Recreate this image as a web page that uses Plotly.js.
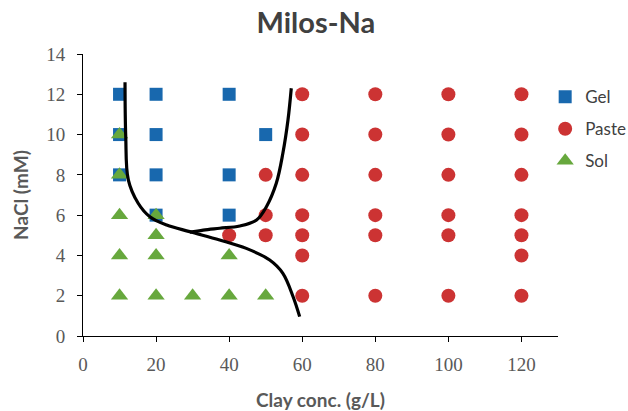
<!DOCTYPE html>
<html>
<head>
<meta charset="utf-8">
<script src="https://cdn.plot.ly/plotly-3.0.1.min.js"></script>
<style>
  html, body { margin: 0; padding: 0; background: #fff; }
  #chart { width: 628px; height: 411px; }
</style>
</head>
<body>
<div id="chart"></div>
<script>
// Phase diagram observations: clay concentration (g/L) vs NaCl (mM)
const gelX   = [10, 20, 40, 10, 20, 50, 10, 20, 40, 20, 40];
const gelY   = [12, 12, 12, 10, 10, 10,  8,  8,  8,  6,  6];

const pasteX = [60, 80, 100, 120,
                60, 80, 100, 120,
                50, 60, 80, 100, 120,
                50, 60, 80, 100, 120,
                40, 50, 60, 80, 100, 120,
                60, 120,
                60, 80, 100, 120];
const pasteY = [12, 12, 12, 12,
                10, 10, 10, 10,
                 8,  8,  8,  8,  8,
                 6,  6,  6,  6,  6,
                 5,  5,  5,  5,  5,  5,
                 4,  4,
                 2,  2,  2,  2];

const solX   = [10, 10, 10, 20, 20, 10, 20, 40, 10, 20, 30, 40, 50];
const solY   = [10,  8,  6,  6,  5,  4,  4,  4,  2,  2,  2,  2,  2];

// Hand-drawn phase boundaries
const sepAX = [11.5, 11.7, 12.4, 15.1, 18.3, 22.9, 29.2, 37.4, 44.7, 51.1, 54.7, 57.5, 59.3];
const sepAY = [12.6,  9.9, 7.75, 6.59, 5.92, 5.51, 5.18, 4.77, 4.35, 3.77, 3.11, 1.95, 0.96];
const sepBX = [57.0, 56.1, 54.7, 52.9, 50.2, 47.5, 42.9, 37.4, 32.9, 29.2];
const sepBY = [12.3, 10.72, 9.07, 7.58, 6.42, 5.76, 5.46, 5.35, 5.26, 5.15];

const xTicks = [0, 20, 40, 60, 80, 100, 120];
const yTicks = [0, 2, 4, 6, 8, 10, 12, 14];

const textGrey = '#595959';
const sansFont = 'Lato, "Open Sans", sans-serif';
const tickFont = { family: '"Liberation Serif", serif', size: 19, color: textGrey };

const traces = [
  {
    x: gelX, y: gelY, name: 'Gel', type: 'scatter', mode: 'markers',
    legendgroup: 'g',
    marker: { symbol: 'square', size: 13, color: '#1868AE' }
  },
  {
    x: pasteX, y: pasteY, name: 'Paste', type: 'scatter', mode: 'markers',
    legendgroup: 'p',
    marker: { symbol: 'circle', size: 14, color: '#CC3333' }
  },
  {
    x: solX, y: solY, name: 'Sol', type: 'scatter', mode: 'markers',
    legendgroup: 's',
    marker: { symbol: 'triangle-up', size: 15, color: '#67A83D' }
  },
  {
    x: sepAX, y: sepAY, type: 'scatter', mode: 'lines', showlegend: false,
    line: { color: '#000', width: 3.2, shape: 'spline', smoothing: 1 }
  },
  {
    x: sepBX, y: sepBY, type: 'scatter', mode: 'lines', showlegend: false,
    line: { color: '#000', width: 3.2, shape: 'spline', smoothing: 1 }
  }
];

const layout = {
  width: 628, height: 411,
  margin: { l: 83, r: 70, t: 54, b: 75, autoexpand: false },
  paper_bgcolor: '#fff', plot_bgcolor: '#fff',
  title: {
    text: '<b>Milos-Na</b>',
    font: { family: sansFont, size: 29, color: '#404040' },
    x: 0.503, xanchor: 'center', y: 0.945, yanchor: 'middle'
  },
  xaxis: {
    range: [0, 130], tickvals: xTicks, ticktext: xTicks.map(String),
    showgrid: false, zeroline: false,
    showline: true, linecolor: '#000', linewidth: 1,
    ticks: 'outside', ticklen: 5, tickcolor: '#000',
    ticklabelstandoff: 6,
    tickfont: tickFont,
    title: { text: '<b>Clay conc. (g/L)</b>', font: { family: sansFont, size: 19, color: textGrey }, standoff: 20 }
  },
  yaxis: {
    range: [0, 14], tickvals: yTicks, ticktext: yTicks.map(String),
    showgrid: false, zeroline: false,
    showline: true, linecolor: '#000', linewidth: 1,
    ticks: 'outside', ticklen: 5, tickcolor: '#000',
    ticklabelstandoff: 8,
    tickfont: tickFont,
    title: { text: '<b>NaCl (mM)</b>', font: { family: sansFont, size: 19, color: textGrey }, standoff: 12 }
  },
  legend: {
    x: 0.973, xanchor: 'left', y: 0.911, yanchor: 'top',
    font: { family: sansFont, size: 17, color: '#404040' },
    traceorder: 'grouped', tracegroupgap: 7,
    itemwidth: 30, bgcolor: 'rgba(0,0,0,0)'
  },
  showlegend: true
};

Plotly.newPlot('chart', traces, layout, { displayModeBar: false, staticPlot: true });
</script>
</body>
</html>
